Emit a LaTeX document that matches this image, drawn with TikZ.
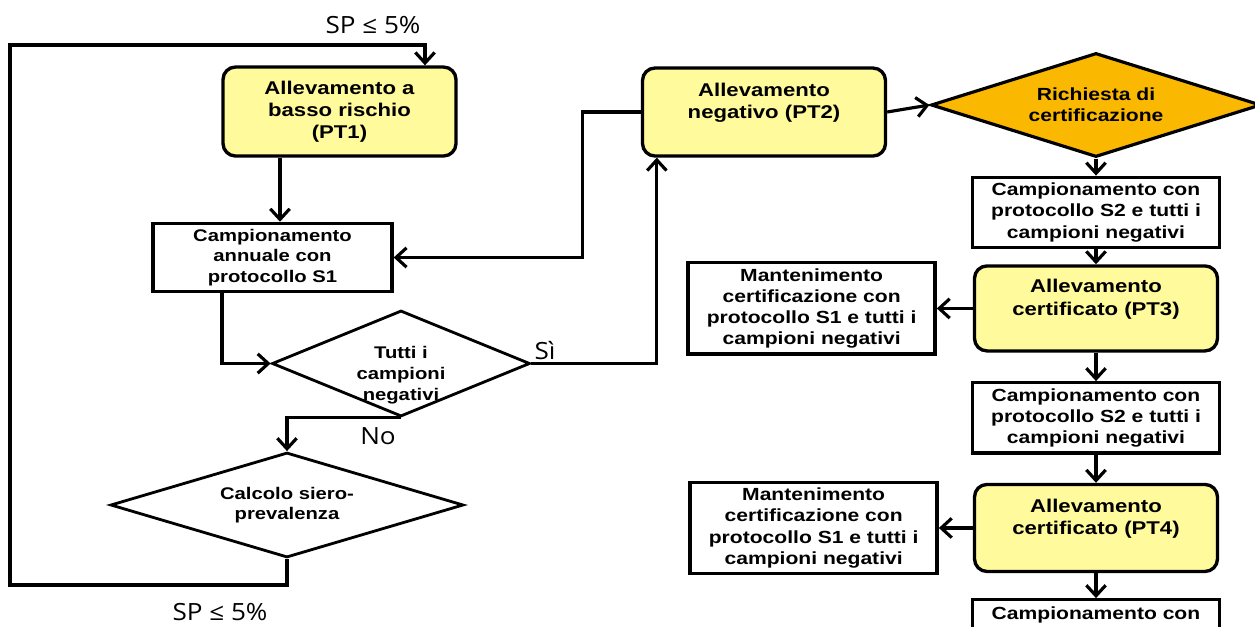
\documentclass[tikz,border=0pt]{standalone}
\usepackage{fontspec}
\setmainfont{Liberation Sans}[FakeStretch=1.2]
\newfontfamily\labfont{Open Sans}[FakeStretch=1.1]
\usetikzlibrary{positioning,shapes.geometric,arrows.meta}
\definecolor{boxyellow}{RGB}{255,250,155}
\definecolor{decorange}{RGB}{250,185,0}

\begin{document}
\begin{tikzpicture}
[
box-y/.style={rectangle, rounded corners=0.25cm, draw, line width=1.9pt, fill=boxyellow, align=center, minimum width=4.86cm, minimum height=1.7cm, font=\fontsize{10.5}{12.6}\selectfont\bfseries},
box-w/.style={rectangle, draw, line width=1.9pt, fill=white, align=center, minimum width=4.95cm, minimum height=1.36cm, font=\fontsize{10}{12}\selectfont\bfseries},
box-m/.style={box-w, minimum width=4.94cm, minimum height=1.82cm},
dec-w/.style={diamond, draw, line width=1.6pt, fill=white, inner sep=0pt, align=center, font=\fontsize{9.6}{11.6}\selectfont\bfseries},
dec-o/.style={dec-w, fill=decorange, line width=1.8pt, font=\fontsize{10}{12}\selectfont\bfseries},
text-a/.style={align=center, font=\fontsize{9.6}{11.9}\selectfont\bfseries},
text-b/.style={font=\labfont\fontsize{13.5}{16}\selectfont},
arr/.style={line width=1.8pt, -{Straight Barb[length=6pt,width=11pt]}}
]
\clip (0,0) rectangle (25.1,-12.52);
% left part
\node (pt-1)     [box-y, minimum width=4.66cm, minimum height=1.78cm] at (6.79,-2.23) {Allevamento a\\basso rischio\\(PT1)};
\node (camp-1)   [box-w, minimum width=4.78cm, minimum height=1.34cm, font=\fontsize{9.6}{11.6}\selectfont\bfseries] at (5.45,-5.15) {Campionamento\\annuale con\\protocollo S1};
\node (tutti)    [dec-w, minimum width=5.16cm, minimum height=2.12cm] at (8.02,-7.27) {};
\node (tutti-id) [text-a] at ([yshift=-0.23cm]tutti.center) {Tutti i\\campioni\\negativi};
\node (calc)     [dec-w, aspect=3.36, minimum width=7.06cm, minimum height=2.1cm] at (5.74,-10.1) {Calcolo siero-\\prevalenza};
\node (sp-top)   [text-b] at (7.46,-0.5)    {SP ≤ 5\%};
\node (sp-bot)   [text-b] at (4.4,-12.24)   {SP ≤ 5\%};
\node (si)       [text-b] at (10.9,-7.02)   {Sì};
\node (no)       [text-b] at (7.56,-8.72)   {No};
\coordinate (loop-1) at (0.2,-11.7);
\coordinate (loop-2) at (0.2,-0.9);
% right part
\node (pt-2)     [box-y, minimum height=1.76cm] at (15.28,-2.24) {Allevamento\\negativo (PT2)\\\mbox{}};
\node (rich)     [dec-o, aspect=3.17, minimum width=6.6cm, minimum height=2.08cm] at (21.92,-2.1) {Richiesta di\\certificazione};
\node (camp-2)   [box-w, below = 0.34cm of rich]   {Campionamento con\\protocollo S2 e tutti i\\campioni negativi};
\node (pt-3)     [box-y, below = 0.3cm of camp-2] {Allevamento\\certificato (PT3)\\\mbox{}};
\node (mant-1)   [box-m, left = 0.72cm of pt-3]    {Mantenimento\\certificazione con\\protocollo S1 e tutti i\\campioni negativi};
\node (camp-3)   [box-w, below = 0.57cm of pt-3]    {Campionamento con\\protocollo S2 e tutti i\\campioni negativi};
\node (pt-4)     [box-y, minimum height=1.74cm, below = 0.56cm of camp-3] {Allevamento\\certificato (PT4)\\\mbox{}};
\node (mant-2)   [box-m, left = 0.68cm of pt-4]    {Mantenimento\\certificazione con\\protocollo S1 e tutti i\\campioni negativi};
\node (camp-4)   [box-w, below = 0.5cm of pt-4]   {Campionamento con\\\mbox{}\\\mbox{}};
% connectors
\draw [arr] ([xshift=0.15cm]camp-1.north |- pt-1.south) -- ([xshift=0.15cm]camp-1.north);
\draw [arr] ([xshift=-1.01cm]camp-1.south) |- (tutti.west);
\draw [arr] (tutti.east) -| ([xshift=0.32cm]pt-2.south west);
\draw [arr] (pt-2.west) -- ++(-1.16,0) |- (camp-1.east);
\draw [arr] (tutti.south) -| (calc.north);
\draw [arr] (calc.south) |- (loop-1) -- (loop-2) -| ([xshift=1.71cm]pt-1.north);
\draw [arr] (pt-2.east) -- (rich.west);
\draw [arr] (rich.south) -- (camp-2.north);
\draw [arr] (camp-2.south) -- (pt-3.north -| camp-2.south);
\draw [arr] (pt-3.west) -- (mant-1.east);
\draw [arr] (pt-3.south) -- (camp-3.north);
\draw [arr] (camp-3.south) -- (pt-4.north);
\draw [arr] (pt-4.west) -- (mant-2.east);
\draw [arr] (pt-4.south) -- (camp-4.north);
\end{tikzpicture}
\end{document}
